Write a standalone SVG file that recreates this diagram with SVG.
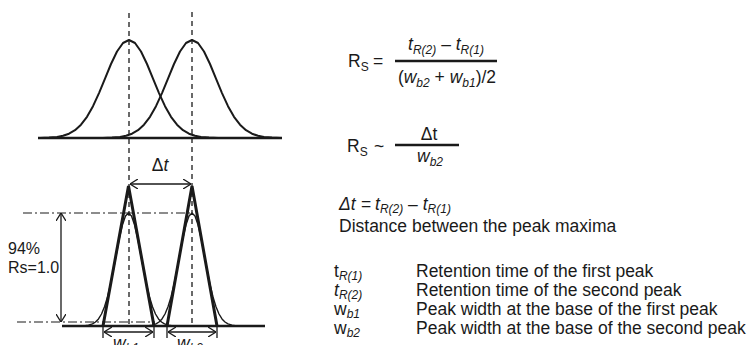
<svg xmlns="http://www.w3.org/2000/svg" xmlns:xlink="http://www.w3.org/1999/xlink" width="747" height="345" viewBox="0 0 747 345">
<style>
text{font-family:"Liberation Sans",Arial,sans-serif;font-size:17.5px;fill:#1a1a1a}
.sub{font-size:12px}
.it{font-style:italic}
.dash{stroke:#1a1a1a;stroke-width:1.3;stroke-dasharray:5 4;fill:none}
.dd{stroke:#1a1a1a;stroke-width:1.2;stroke-dasharray:9 3 2 3;fill:none}
.base{stroke:#1a1a1a;stroke-width:2.5;fill:none}
.gt{stroke:#1a1a1a;stroke-width:2;fill:none;stroke-linejoin:round}
.gb{stroke:#1a1a1a;stroke-width:1.4;fill:none;stroke-linejoin:round}
.tri{stroke:#1a1a1a;stroke-width:3;fill:none;stroke-linejoin:miter}
.arr{stroke:#1a1a1a;stroke-width:1.3;fill:none;marker-start:url(#ah);marker-end:url(#ah)}
.tick{stroke:#1a1a1a;stroke-width:1.3}
.frac{stroke:#1a1a1a;stroke-width:2.3}
</style>
<defs>
<marker id="ah" viewBox="0 0 8 10" refX="8" refY="5" markerWidth="8" markerHeight="10" markerUnits="userSpaceOnUse" orient="auto-start-reverse">
<path d="M0,0 L8,5 L0,10" fill="none" stroke="#1a1a1a" stroke-width="1.3"/>
</marker>
<path id="gTop" d="M-89,0 L-80,-0.4 L-72,-1.1 L-66,-2.2 L-60,-4.3 L-54,-7.8 L-48,-13.3 L-42,-21.2 L-36,-31.8 L-30,-44.9 L-24,-59.4 L-18,-74 L-12,-86.5 L-6,-95 L0,-98 L6,-95 L12,-86.5 L18,-74 L24,-59.4 L30,-44.9 L36,-31.8 L42,-21.2 L48,-13.3 L54,-7.8 L60,-4.3 L66,-2.2 L72,-1.1 L80,-0.4 L89,0"/>
<path id="gBot" d="M-45,0 L-40,-0.8 L-36,-2.1 L-33,-4 L-30,-7.1 L-27,-12 L-24,-19.2 L-21,-29.1 L-18,-41.7 L-15,-56.5 L-12,-72.6 L-9,-88.1 L-6,-101.2 L-3,-109.9 L0,-113 L3,-109.9 L6,-101.2 L9,-88.1 L12,-72.6 L15,-56.5 L18,-41.7 L21,-29.1 L24,-19.2 L27,-12 L30,-7.1 L33,-4 L36,-2.1 L40,-0.8 L45,0"/>
</defs>

<g id="top-chart">
<line class="dash" x1="129" y1="13" x2="129" y2="326"/>
<line class="dash" x1="192" y1="12" x2="192" y2="326"/>
<line class="base" x1="38" y1="138" x2="282" y2="138"/>
<use xlink:href="#gTop" href="#gTop" class="gt" transform="translate(129,138)"/>
<use xlink:href="#gTop" href="#gTop" class="gt" transform="translate(192,138)"/>
</g>

<g id="bottom-chart">
<line class="dd" x1="23" y1="213" x2="192" y2="213"/>
<line class="dd" x1="17" y1="322" x2="155" y2="322"/>
<line class="base" x1="62" y1="326" x2="265" y2="326"/>
<use xlink:href="#gBot" href="#gBot" class="gb" transform="translate(128.5,326)"/>
<use xlink:href="#gBot" href="#gBot" class="gb" transform="translate(192,326)"/>
<path class="tri" d="M103,326 L128.5,186 L154,326"/>
<path class="tri" d="M167,326 L192,186 L217,326"/>
<line class="tick" x1="103" y1="326" x2="103" y2="338"/>
<line class="tick" x1="154" y1="326" x2="154" y2="338"/>
<line class="tick" x1="167" y1="326" x2="167" y2="338"/>
<line class="tick" x1="217" y1="326" x2="217" y2="338"/>
<text x="8" y="254" style="font-size:16px">94%</text>
<text x="8" y="273" style="font-size:16px">Rs=1.0</text>
<text x="160" y="171" text-anchor="middle">Δ<tspan class="it">t</tspan></text>
<text x="113" y="349" class="it">w<tspan class="sub" dy="3">b1</tspan></text>
<text x="177" y="349" class="it">w<tspan class="sub" dy="3">b2</tspan></text>
</g>

<g id="connectors">
<line class="arr" x1="130" y1="184" x2="191" y2="184"/>
<line class="arr" x1="61" y1="213" x2="61" y2="322"/>
<line class="arr" x1="104" y1="332" x2="153" y2="332"/>
<line class="arr" x1="168" y1="332" x2="216" y2="332"/>
</g>

<g id="formula-rs">
<text x="348" y="67">R<tspan class="sub" dy="4">S</tspan></text>
<text x="373" y="67">=</text>
<line class="frac" x1="395" y1="61" x2="497" y2="61"/>
<text x="446" y="50" text-anchor="middle"><tspan class="it">t</tspan><tspan class="sub it" dy="4">R(2)</tspan><tspan dy="-4"> – </tspan><tspan class="it">t</tspan><tspan class="sub it" dy="4">R(1)</tspan></text>
<text x="447" y="83" text-anchor="middle">(<tspan class="it">w</tspan><tspan class="sub it" dy="4">b2</tspan><tspan dy="-4"> + </tspan><tspan class="it">w</tspan><tspan class="sub it" dy="4">b1</tspan><tspan dy="-4">)/2</tspan></text>
</g>

<g id="formula-approx">
<text x="347" y="152">R<tspan class="sub" dy="4">S</tspan></text>
<text x="374" y="152">~</text>
<line class="frac" x1="395" y1="145" x2="459" y2="145"/>
<text x="429" y="140" text-anchor="middle">Δt</text>
<text x="417" y="162" class="it">w<tspan class="sub" dy="4">b2</tspan></text>
</g>

<g id="delta-t-def">
<text x="339" y="210" class="it">Δt</text>
<text x="361" y="210">=</text>
<text x="375" y="210"><tspan class="it">t</tspan><tspan class="sub it" dy="3">R(2)</tspan><tspan dy="-3"> – </tspan><tspan class="it">t</tspan><tspan class="sub it" dy="3">R(1)</tspan></text>
<text x="339" y="232">Distance between the peak maxima</text>
</g>

<g id="legend">
<text x="334" y="277">t<tspan class="sub it" dy="3">R(1)</tspan></text>
<text x="416" y="277">Retention time of the first peak</text>
<text x="334" y="296"><tspan class="it">t</tspan><tspan class="sub it" dy="3">R(2)</tspan></text>
<text x="416" y="296">Retention time of the second peak</text>
<text x="334" y="315">w<tspan class="sub it" dy="3">b1</tspan></text>
<text x="416" y="315">Peak width at the base of the first peak</text>
<text x="334" y="334">w<tspan class="sub it" dy="3">b2</tspan></text>
<text x="416" y="334">Peak width at the base of the second peak</text>
</g>
</svg>
